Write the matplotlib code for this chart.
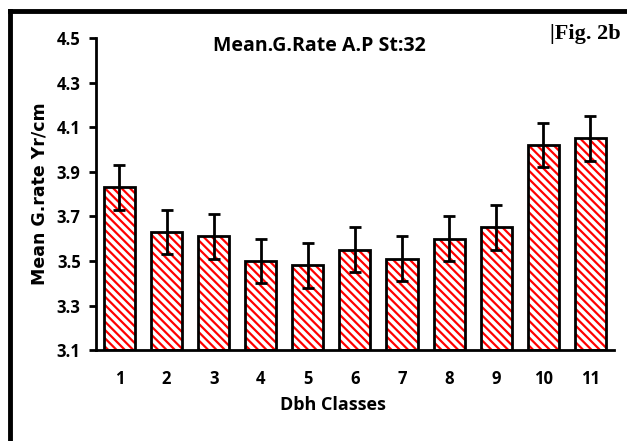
import matplotlib as mpl
mpl.use('Agg')
import matplotlib.pyplot as plt
from matplotlib.lines import Line2D
import numpy

Classes = ['1', '2', '3', '4', '5', '6', '7', '8', '9', '10', '11']
MeanRate = [3.83, 3.63, 3.61, 3.50, 3.48, 3.55, 3.51, 3.60, 3.65, 4.02, 4.05]
ErrRate = [0.10, 0.10, 0.10, 0.10, 0.10, 0.10, 0.10, 0.10, 0.10, 0.10, 0.10]
YTicks = [3.1, 3.3, 3.5, 3.7, 3.9, 4.1, 4.3, 4.5]

NarrowFont = ['Liberation Sans Narrow', 'Open Sans', 'DejaVu Sans']

plt.rcParams['hatch.linewidth'] = 1.6
Fig = plt.figure(figsize=(6.27, 4.41), dpi=100)
Axe = Fig.add_axes([0.153, 0.206, 0.826, 0.708])

Index = numpy.arange(len(Classes))
Width = 0.66
Base = YTicks[0]
Heights = [v - Base for v in MeanRate]

# red hatch first, black outline on top
Axe.bar(Index, Heights, Width, bottom=Base, color='white', edgecolor='#ff0000',
        hatch='\\\\\\\\', linewidth=0, zorder=2)
Axe.bar(Index, Heights, Width, bottom=Base, fill=False, edgecolor='black',
        linewidth=2, zorder=3)
Axe.errorbar(Index, MeanRate, yerr=ErrRate, fmt='none', ecolor='black',
             elinewidth=2, capsize=4, capthick=2, zorder=4)

Axe.set_xlim(-0.5, len(Classes) - 0.5)
Axe.set_ylim(YTicks[0], YTicks[-1])
Axe.set_yticks(YTicks)
Axe.set_yticklabels(['%.1f' % v for v in YTicks], family=NarrowFont,
                    fontweight='bold', fontsize=12)
Axe.set_xticks(Index)
Axe.set_xticklabels(Classes, family=NarrowFont, fontweight='bold', fontsize=12)
Axe.tick_params(axis='x', length=0, pad=14)
Axe.tick_params(axis='y', length=5, width=2, pad=6)

Axe.spines['top'].set_visible(False)
Axe.spines['right'].set_visible(False)
Axe.spines['left'].set_linewidth(2)
Axe.spines['bottom'].set_linewidth(2)

Axe.set_xlabel('Dbh Classes', family=NarrowFont, fontweight='bold', fontsize=13,
               labelpad=6, x=0.458)
Axe.set_ylabel('Mean G.rate Yr/cm', family='DejaVu Sans', fontweight='bold',
               fontsize=12.5, labelpad=6)
Axe.text(0.432, 1.005, 'Mean.G.Rate A.P St:32', transform=Axe.transAxes,
         ha='center', va='top', family=NarrowFont, fontweight='bold', fontsize=14)
Fig.text(0.99, 0.923, '|Fig. 2b', ha='right', va='center',
         family='Liberation Serif', fontweight='bold', fontsize=16)

# outer frame: top and left edges
Fig.add_artist(Line2D([0.016, 1.0], [0.975, 0.975], color='black', linewidth=3.5,
                      transform=Fig.transFigure))
Fig.add_artist(Line2D([0.016, 0.016], [0.0, 0.975], color='black', linewidth=3.5,
                      transform=Fig.transFigure))

plt.savefig('out.png', dpi=100)
